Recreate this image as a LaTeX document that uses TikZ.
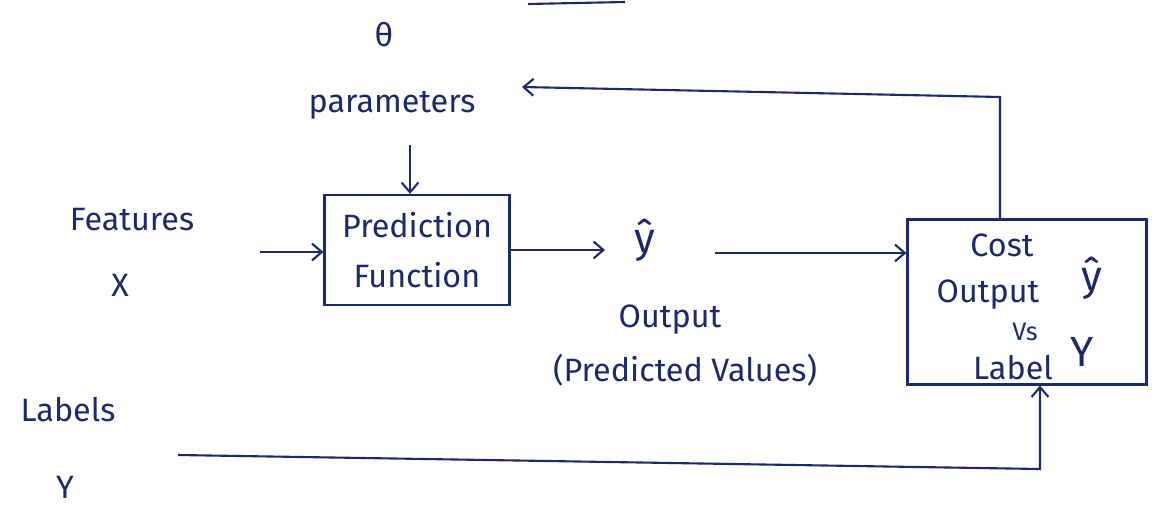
\documentclass[tikz,border=0pt]{standalone}
\usepackage{fontspec}
\setmainfont{Fira Sans}
\usetikzlibrary{arrows.meta}
\definecolor{ink}{HTML}{1B2A68}
\begin{document}
\begin{tikzpicture}[x=0.025cm,y=-0.025cm,
  ink/.style={draw=ink,line width=1.5pt},
  txt/.style={text=ink,font=\fontsize{23}{30}\selectfont,inner sep=1pt,align=center},
  big/.style={txt,font=\fontsize{30}{34}\selectfont},
  boxnode/.style={ink,rectangle,inner sep=0pt},
  arr/.style={ink,-{Straight Barb[length=7pt,width=12pt,line width=1.5pt]}},
  plain/.style={ink}]
\useasboundingbox (0,0) rectangle (1156,518);
% top stroke
\coordinate (ts) at (528,4);
\coordinate (te) at (625,2);
\draw[plain] (ts) -- (te);
% texts
\node[txt] (theta) at (384,35) {θ};
\node[txt] (params) at (392,105) {parameters};
\node[txt] (feat) at (132,220) {Features};
\node[txt] (X) at (120,285) {X};
\node[txt] (labels) at (68,410) {Labels};
\node[txt] (Ylab) at (65,487) {Y};
% prediction function box
\node[boxnode,txt,draw=ink,minimum width=185*0.025cm,minimum height=110*0.025cm] (pred) at (417,250) {Prediction\\[6pt]Function};
% yhat output
\node[big] (yhat) at (645,240) {ŷ};
\node[txt] (out) at (670,320) {Output};
\node[txt] (pv) at (685,370) {(Predicted Values)};
% cost box
\node[boxnode,draw=ink,minimum width=239*0.025cm,minimum height=165*0.025cm] (cost) at (1027,302) {};
\node[txt] (ctext) at (1002,245) {Cost};
\node[txt] (otext) at (988,295) {Output};
\node[txt,font=\fontsize{18}{22}\selectfont] (vs) at (1025,332) {Vs};
\node[txt] (ltext) at (1013,368) {Label};
\node[big] (cyhat) at (1092,278) {ŷ};
\node[big] (cy) at (1082,352) {Y};
% connectors
\coordinate (fin) at (260,252);
\draw[arr] (fin) -- (pred.west |- fin);
\coordinate (ptop) at (410,145);
\draw[arr] (ptop) -- (pred.north -| ptop);
\coordinate (pout) at (605,250);
\draw[arr] (pred.east |- pout) -- (pout);
\coordinate (ys) at (715,253);
\draw[arr] (ys) -- (cost.west |- ys);
\coordinate (fbc) at (1000,97);
\coordinate (fbt) at (522,87);
\draw[arr] (cost.north -| fbc) -- (fbc) -- (fbt);
\coordinate (ls) at (178,455);
\coordinate (lc) at (1040,469);
\draw[arr] (ls) -- (lc) -- (cost.south -| lc);
\end{tikzpicture}
\end{document}
